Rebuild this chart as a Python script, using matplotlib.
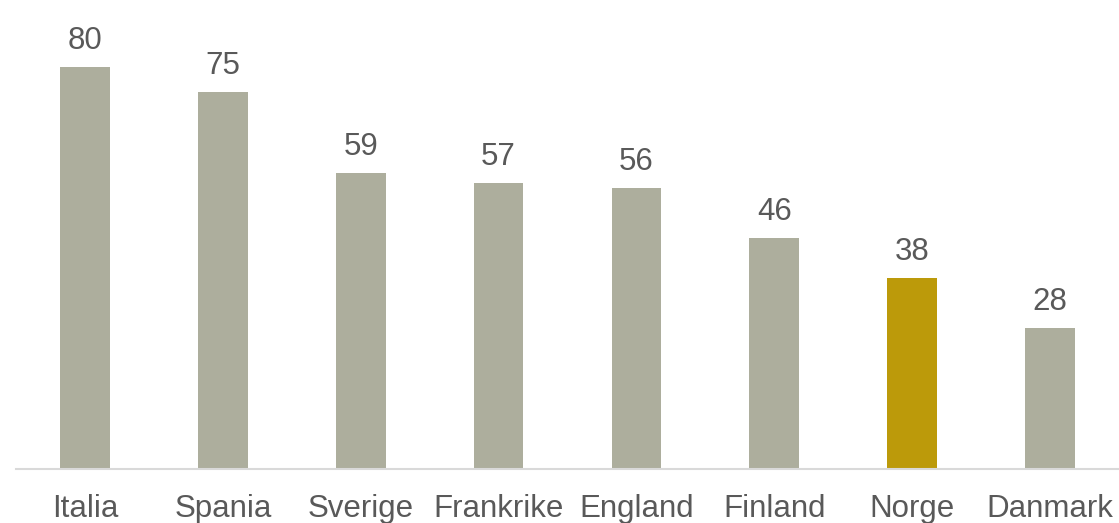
import matplotlib.pyplot as plt

plt.rcParams['font.family'] = ['Liberation Sans', 'DejaVu Sans']

countries = ['Italia', 'Spania', 'Sverige', 'Frankrike', 'England', 'Finland', 'Norge', 'Danmark']
values = [80, 75, 59, 57, 56, 46, 38, 28]
highlight = 'Norge'

grey = '#ADAE9D'
gold = '#BC9A0A'
text_col = '#595959'

colors = [gold if c == highlight else grey for c in countries]

fig = plt.figure(figsize=(11.19, 5.23), dpi=100)
ax = fig.add_axes([16 / 1119, 54 / 523, 1 - 16 / 1119, 469 / 523])

x = range(len(countries))
bars = ax.bar(x, values, width=0.36, color=colors)

for b, v in zip(bars, values):
    ax.annotate(str(v), (b.get_x() + b.get_width() / 2, v), xytext=(0, 13),
                textcoords='offset points', ha='center', va='baseline',
                fontsize=22.5, color=text_col)

ax.set_xlim(-0.5, len(countries) - 0.5)
ax.set_ylim(0, 93.4)
ax.set_xticks(list(x))
ax.set_xticklabels(countries, fontsize=22.5, color=text_col)
ax.tick_params(axis='x', length=0, pad=18)
ax.set_yticks([])
for s in ['top', 'right', 'left']:
    ax.spines[s].set_visible(False)
ax.spines['bottom'].set_color('#D9D9D9')
ax.spines['bottom'].set_linewidth(1.5)

fig.savefig('out.png', dpi=100)
